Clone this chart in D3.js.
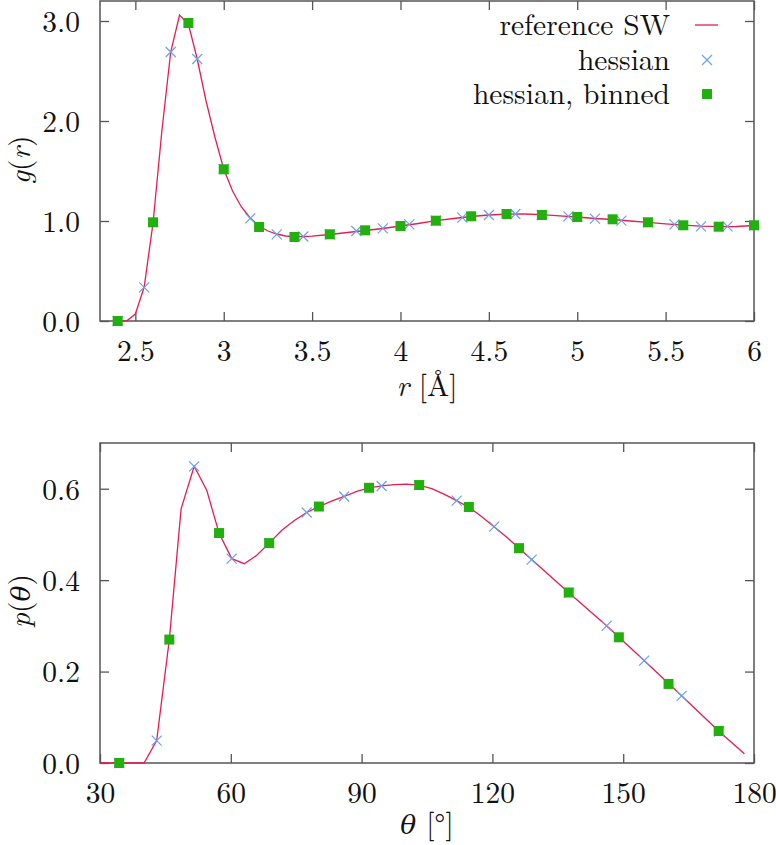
<!DOCTYPE html>
<html>
<head>
<meta charset="utf-8">
<script src="https://cdn.jsdelivr.net/npm/d3@7"></script>
<style>
  html, body { margin: 0; padding: 0; background: #fff; }
  svg { display: block; }
</style>
</head>
<body>
<svg id="chart" width="776" height="845"></svg>
<script>
// ---------- Data: top panel g(r) ----------
const gLineR = [2.40, 2.45, 2.50, 2.55, 2.60, 2.65, 2.70, 2.75, 2.80, 2.85, 2.90, 2.95, 3.00, 3.05, 3.10, 3.15, 3.20, 3.25, 3.30, 3.35, 3.40, 3.45, 3.50, 3.60, 3.70, 3.80, 3.90, 4.00, 4.10, 4.20, 4.30, 4.40, 4.50, 4.60, 4.70, 4.80, 4.90, 5.00, 5.10, 5.20, 5.30, 5.40, 5.50, 5.60, 5.70, 5.80, 5.90, 6.00];
const gLineV = [0.00, 0.00, 0.07, 0.34, 0.98, 1.90, 2.69, 3.06, 2.97, 2.62, 2.20, 1.84, 1.52, 1.30, 1.14, 1.03, 0.95, 0.90, 0.87, 0.850, 0.843, 0.843, 0.848, 0.865, 0.885, 0.905, 0.925, 0.950, 0.975, 1.003, 1.025, 1.045, 1.060, 1.068, 1.070, 1.063, 1.052, 1.040, 1.025, 1.015, 1.000, 0.987, 0.972, 0.958, 0.948, 0.943, 0.945, 0.955];
const gHessR = [2.40, 2.55, 2.70, 2.85, 3.00, 3.15, 3.30, 3.45, 3.60, 3.75, 3.90, 4.05, 4.20, 4.35, 4.50, 4.65, 4.80, 4.95, 5.10, 5.25, 5.40, 5.55, 5.70, 5.85, 6.00];
const gHessV = [0.00, 0.337, 2.69, 2.62, 1.52, 1.027, 0.867, 0.845, 0.866, 0.90, 0.927, 0.967, 1.003, 1.033, 1.06, 1.07, 1.06, 1.047, 1.023, 1.003, 0.987, 0.967, 0.947, 0.947, 0.957];
const gBinR = [2.40, 2.60, 2.80, 3.00, 3.20, 3.40, 3.60, 3.80, 4.00, 4.20, 4.40, 4.60, 4.80, 5.00, 5.20, 5.40, 5.60, 5.80, 6.00];
const gBinV = [0.00, 0.987, 2.98, 1.517, 0.94, 0.84, 0.867, 0.907, 0.95, 1.003, 1.047, 1.07, 1.06, 1.04, 1.017, 0.987, 0.957, 0.943, 0.957];
const gXTicks = [2.5, 3, 3.5, 4, 4.5, 5, 5.5, 6];
const gXTickLabels = ["2.5", "3", "3.5", "4", "4.5", "5", "5.5", "6"];
const gYTicks = [0, 1, 2, 3];
const gYTickLabels = ["0.0", "1.0", "2.0", "3.0"];

// ---------- Data: bottom panel p(theta) ----------
const pLineT = [30, 40.1, 43.0, 45.9, 48.6, 51.6, 54.5, 57.3, 60.2, 63.1, 65.9, 68.8, 71.7, 74.5, 77.4, 80.2, 83.1, 86.0, 88.9, 91.7, 94.6, 97.5, 100.3, 103.2, 106.1, 108.9, 111.8, 114.7, 117.5, 120.4, 123.3, 126.1, 129.0, 137.6, 146.2, 154.8, 163.4, 172.0, 177.8];
const pLineV = [0, 0, 0.049, 0.27, 0.556, 0.649, 0.596, 0.503, 0.447, 0.436, 0.454, 0.481, 0.509, 0.530, 0.548, 0.561, 0.573, 0.583, 0.594, 0.602, 0.606, 0.609, 0.610, 0.608, 0.600, 0.588, 0.574, 0.559, 0.539, 0.517, 0.494, 0.470, 0.445, 0.372, 0.300, 0.224, 0.147, 0.069, 0.020];
const pHessT = [34.4, 43.0, 51.6, 60.2, 68.8, 77.4, 86.0, 94.6, 103.2, 111.8, 120.4, 129.0, 137.6, 146.2, 154.8, 163.4, 172.0];
const pHessV = [0, 0.049, 0.649, 0.447, 0.481, 0.548, 0.583, 0.606, 0.608, 0.574, 0.517, 0.445, 0.372, 0.300, 0.224, 0.147, 0.069];
const pBinT = [34.4, 45.9, 57.3, 68.8, 80.2, 91.7, 103.2, 114.6, 126.1, 137.5, 149.0, 160.4, 171.9];
const pBinV = [0, 0.27, 0.503, 0.481, 0.561, 0.602, 0.608, 0.560, 0.470, 0.373, 0.275, 0.173, 0.070];
const pXTicks = [30, 60, 90, 120, 150, 180];
const pXTickLabels = ["30", "60", "90", "120", "150", "180"];
const pYTicks = [0, 0.2, 0.4, 0.6];
const pYTickLabels = ["0.0", "0.2", "0.4", "0.6"];

const legendLabels = ["reference SW", "hessian", "hessian, binned"];

// ---------- Styles ----------
const RED = "#e81c4f", BLUE = "#6aa0f0", GREEN = "#21b00e", FRAME = "#555";
const FONT = '"Latin Modern Roman", "CMU Serif", "DejaVu Serif", serif';
const GREEK = '"DejaVu Serif", serif';
const FS = 29.5;

const svg = d3.select("#chart");

function styleText(sel) {
  return sel.style("font-family", FONT).style("font-size", FS + "px").attr("fill", "#111");
}

function crossPath(s) {
  return `M${-s},${-s}L${s},${s}M${-s},${s}L${s},${-s}`;
}

function panel(opts) {
  const { x0, x1, y0, y1, xDom, yDom, lineX, lineY, hx, hy, bx, by,
          xt, xtl, yt, ytl } = opts;
  const x = d3.scaleLinear().domain(xDom).range([x0, x1]);
  const y = d3.scaleLinear().domain(yDom).range([y1, y0]);
  const g = svg.append("g");
  const tl = 9;

  const axB = d3.axisBottom(x).tickValues(xt).tickFormat((d, i) => xtl[i]).tickSizeInner(-tl).tickSizeOuter(0).tickPadding(19);
  const axT = d3.axisTop(x).tickValues(xt).tickFormat("").tickSizeInner(-tl).tickSizeOuter(0);
  const axL = d3.axisLeft(y).tickValues(yt).tickFormat((d, i) => ytl[i]).tickSizeInner(-tl).tickSizeOuter(0).tickPadding(20);
  const axR = d3.axisRight(y).tickValues(yt).tickFormat("").tickSizeInner(-tl).tickSizeOuter(0);

  const gb = g.append("g").attr("transform", `translate(0,${y1})`).call(axB);
  const gt = g.append("g").attr("transform", `translate(0,${y0})`).call(axT);
  const gl = g.append("g").attr("transform", `translate(${x0},0)`).call(axL);
  const gr = g.append("g").attr("transform", `translate(${x1},0)`).call(axR);
  [gb, gt, gl, gr].forEach(a => {
    a.attr("font-family", null).attr("font-size", null);
    a.select(".domain").remove();
    a.selectAll("line").attr("stroke", FRAME).attr("stroke-width", 1.3);
    styleText(a.selectAll("text"));
  });
  gb.selectAll("text").attr("dy", "0.72em");
  gl.selectAll("text").attr("dy", "0.35em");

  g.append("rect").attr("x", x0).attr("y", y0).attr("width", x1 - x0).attr("height", y1 - y0)
    .attr("fill", "none").attr("stroke", FRAME).attr("stroke-width", 1.5);

  const line = d3.line().x((d) => x(d[0])).y((d) => y(d[1]));
  g.append("path").datum(lineX.map((v, i) => [v, lineY[i]]))
    .attr("d", line).attr("fill", "none").attr("stroke", RED).attr("stroke-width", 1.3);

  g.selectAll(".cross").data(hx.map((v, i) => [v, hy[i]])).enter().append("path")
    .attr("transform", d => `translate(${x(d[0])},${y(d[1])})`)
    .attr("d", crossPath(5)).attr("stroke", BLUE).attr("stroke-width", 1.2).attr("fill", "none");

  const sq = 10;
  g.selectAll(".sq").data(bx.map((v, i) => [v, by[i]])).enter().append("rect")
    .attr("x", d => x(d[0]) - sq / 2).attr("y", d => y(d[1]) - sq / 2)
    .attr("width", sq).attr("height", sq).attr("fill", GREEN);

  return { x, y, g };
}

panel({
  x0: 100, x1: 754, y0: 1, y1: 321,
  xDom: [2.3, 6], yDom: [0, 3.2],
  lineX: gLineR, lineY: gLineV, hx: gHessR, hy: gHessV, bx: gBinR, by: gBinV,
  xt: gXTicks, xtl: gXTickLabels, yt: gYTicks, ytl: gYTickLabels
});

panel({
  x0: 100, x1: 754, y0: 443, y1: 763,
  xDom: [30, 180], yDom: [0, 0.7],
  lineX: pLineT, lineY: pLineV, hx: pHessT, hy: pHessV, bx: pBinT, by: pBinV,
  xt: pXTicks, xtl: pXTickLabels, yt: pYTicks, ytl: pYTickLabels
});

const lg = svg.append("g");
const legY = [25, 60, 94];
legendLabels.forEach((lab, i) => {
  styleText(lg.append("text").attr("x", 670).attr("y", legY[i]).attr("dy", "0.33em")
    .attr("text-anchor", "end")).text(lab);
});
lg.append("line").attr("x1", 695).attr("x2", 718).attr("y1", legY[0]).attr("y2", legY[0])
  .attr("stroke", RED).attr("stroke-width", 1.3);
lg.append("path").attr("transform", `translate(707,${legY[1]})`).attr("d", crossPath(5))
  .attr("stroke", BLUE).attr("stroke-width", 1.2);
lg.append("rect").attr("x", 702).attr("y", legY[2] - 5).attr("width", 10).attr("height", 10).attr("fill", GREEN);

function symSpan(t, s) {
  const sp = t.append("tspan").style("font-style", "italic").text(s);
  if (/[\u0370-\u03ff]/.test(s)) sp.style("font-family", GREEK).style("font-size", (FS - 3) + "px");
  return sp;
}

function xTitle(yBase, sym, unit) {
  const t = styleText(svg.append("text").attr("x", 427).attr("y", yBase).attr("text-anchor", "middle"));
  symSpan(t, sym);
  t.append("tspan").text(" [" + unit + "]");
}
xTitle(396, "r", "Å");
xTitle(834, "θ", "°");

function yTitle(cx, cy, fn, arg) {
  const t = styleText(svg.append("text").attr("transform", `translate(${cx},${cy}) rotate(-90)`)
    .attr("text-anchor", "middle").attr("dy", "0.33em"));
  symSpan(t, fn);
  t.append("tspan").text("(");
  symSpan(t, arg);
  t.append("tspan").text(")");
}
yTitle(20, 160, "g", "r");
yTitle(20, 601, "p", "θ");
</script>
</body>
</html>
